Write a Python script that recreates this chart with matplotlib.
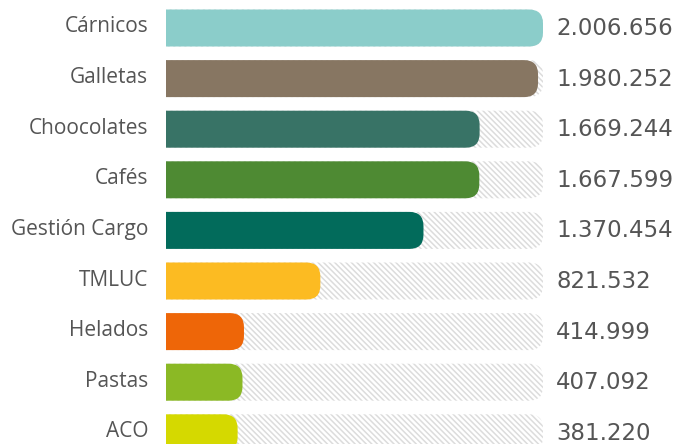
import matplotlib
matplotlib.use("Agg")
import matplotlib.pyplot as plt
from matplotlib.patches import FancyBboxPatch

categories = ["Cárnicos", "Galletas", "Choocolates", "Cafés", "Gestión Cargo",
              "TMLUC", "Helados", "Pastas", "ACO"]
values = [2006656, 1980252, 1669244, 1667599, 1370454, 821532, 414999, 407092, 381220]
value_labels = ["2.006.656", "1.980.252", "1.669.244", "1.667.599", "1.370.454",
                "821.532", "414.999", "407.092", "381.220"]
colors = ["#8bcdca", "#877662", "#387366", "#4e8a33", "#026b5b",
          "#fcbb22", "#ee6608", "#8bb925", "#d5d900"]

W, H, DPI = 676, 444, 100
TRACK_LEFT, TRACK_RIGHT = 166, 543      # px
ROW0, PITCH, BAR_PX = 28, 50.6, 37      # px
RADIUS_PX = 14

plt.rcParams["hatch.linewidth"] = 1.1

fig = plt.figure(figsize=(W / DPI, H / DPI), dpi=DPI)
ax = fig.add_axes([TRACK_LEFT / W, 0, (TRACK_RIGHT - TRACK_LEFT) / W, 1])

xmax = max(values)
ax.set_xlim(0, xmax)
ax.set_ylim((H - ROW0) / PITCH, -ROW0 / PITCH)
ax.axis("off")

ux = xmax / (TRACK_RIGHT - TRACK_LEFT)   # x units per pixel
uy = 1 / PITCH                           # y units per pixel
aspect = uy / ux
r = RADIUS_PX * ux
h = BAR_PX / PITCH


def rounded_bar(y, length, **kw):
    # box starts left of zero so only the right end shows rounded corners
    p = FancyBboxPatch((-r * 2, y - h / 2), length + r * 2, h,
                       boxstyle=f"round,pad=0,rounding_size={r}",
                       mutation_aspect=aspect, **kw)
    ax.add_patch(p)
    return p


for i, (cat, val, lab, col) in enumerate(zip(categories, values, value_labels, colors)):
    rounded_bar(i, xmax, facecolor="white", edgecolor="#dcdcdc",
                hatch="\\" * 6, linewidth=0)
    rounded_bar(i, val, facecolor=col, edgecolor="none", linewidth=0)
    ax.text(-18 * ux, i - 1 * uy, cat, ha="right", va="center", fontsize=15,
            family="Open Sans", color="#555555")
    ax.text(xmax + 13 * ux, i + 0.5 * uy, lab, ha="left", va="center", fontsize=16.5,
            family="DejaVu Sans", color="#555555", clip_on=False)

fig.savefig("out.png", dpi=DPI)
